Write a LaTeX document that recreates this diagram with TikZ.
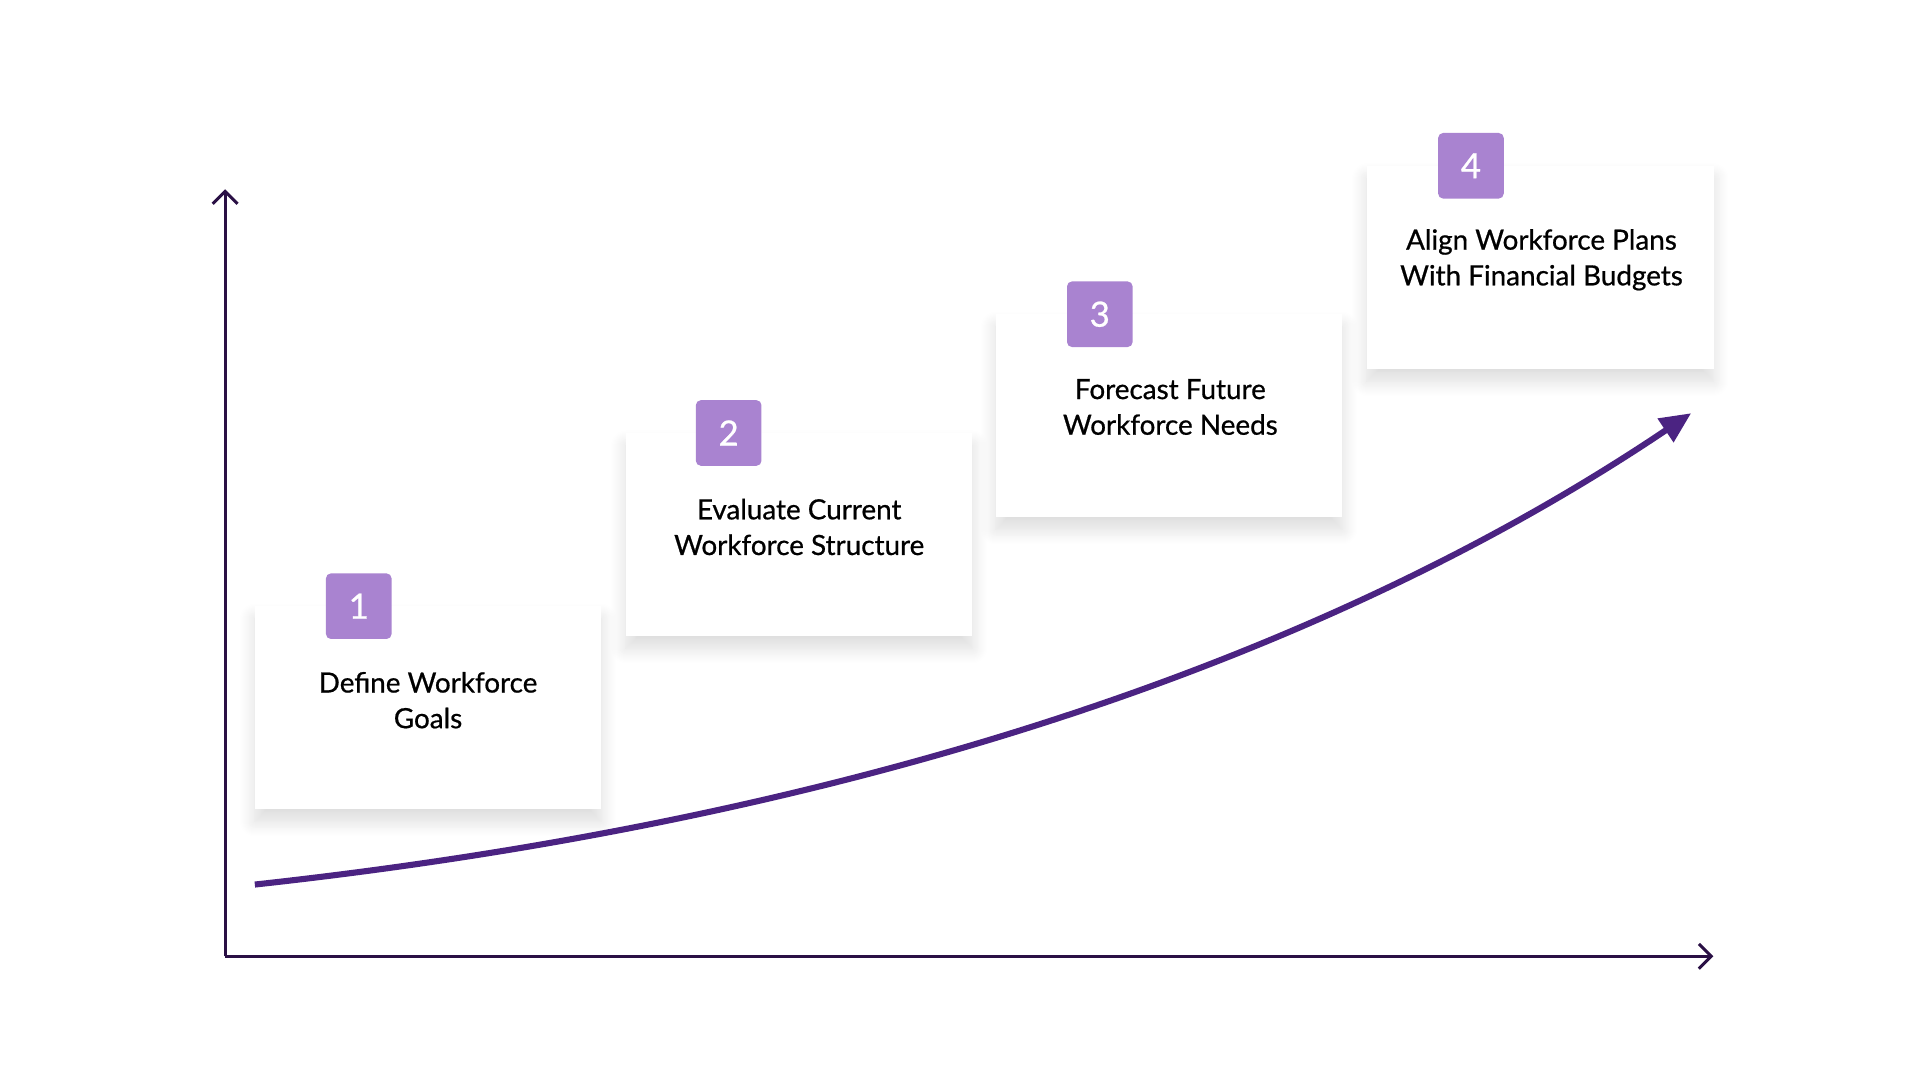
\documentclass[tikz,border=0pt]{standalone}
\usepackage{fontspec}
\setmainfont{Lato}[AutoFakeBold=0.7]
\usetikzlibrary{positioning, shadows.blur, arrows.meta}
\definecolor{badge}{HTML}{A983D0}
\definecolor{axis}{HTML}{2A1045}
\definecolor{curve}{HTML}{4B2382}
\tikzset{
  card/.style={fill=white, minimum width=2.8cm, minimum height=1.64cm, inner sep=0pt,
    blur shadow={shadow xshift=0pt, shadow yshift=-0.1cm, shadow blur steps=16, shadow blur radius=0.12cm, shadow opacity=14}},
  badge/.style={fill=badge, rounded corners=0.04cm, minimum size=0.53cm, inner sep=0pt,
    text=white, font=\fontsize{8}{8}\selectfont\bfseries},
  label/.style={align=center, font=\fontsize{6.4}{8.2}\selectfont\bfseries, text=black}
}
\begin{document}
\begin{tikzpicture}[x=0.01cm, y=-0.01cm]
   \useasboundingbox (0,0) rectangle (1552,873);
   % axes
   \coordinate (o) at (182,773);
   \coordinate (ytop) at (182,153);
   \coordinate (xend) at (1385,773);
   \draw[axis, line width=0.7pt, -{Straight Barb[length=0.1cm, width=0.2cm]}] (o) -- (ytop);
   \draw[axis, line width=0.7pt, -{Straight Barb[length=0.1cm, width=0.2cm]}] (o) -- (xend);
   % cards
   \node[card] (c_1) at (346,572) {};
   \node[card] (c_2) at (646,432) {};
   \node[card] (c_3) at (945,336) {};
   \node[card] (c_4) at (1245,216) {};
   \node[badge] (b_1) at (290,490) {1};
   \node[badge] (b_2) at (589,350) {2};
   \node[badge] (b_3) at (889,254) {3};
   \node[badge] (b_4) at (1189,134) {4};
   \node[label] (t_1) at (346,566) {Define Workforce\\Goals};
   \node[label] (t_2) at (646,426) {Evaluate Current\\Workforce Structure};
   \node[label] (t_3) at (946,329) {Forecast Future\\Workforce Needs};
   \node[label] (t_4) at (1246,210) {Align Workforce Plans\\With Financial Budgets};
   % growth curve
   \coordinate (g_0) at (206,715);
   \coordinate (g_1) at (1367,334);
   \draw[curve, line width=1.4pt, -{Triangle[length=0.25cm, width=0.22cm]}]
     (g_0) .. controls (800,650) and (1150,480) .. (g_1);
\end{tikzpicture}
\end{document}
